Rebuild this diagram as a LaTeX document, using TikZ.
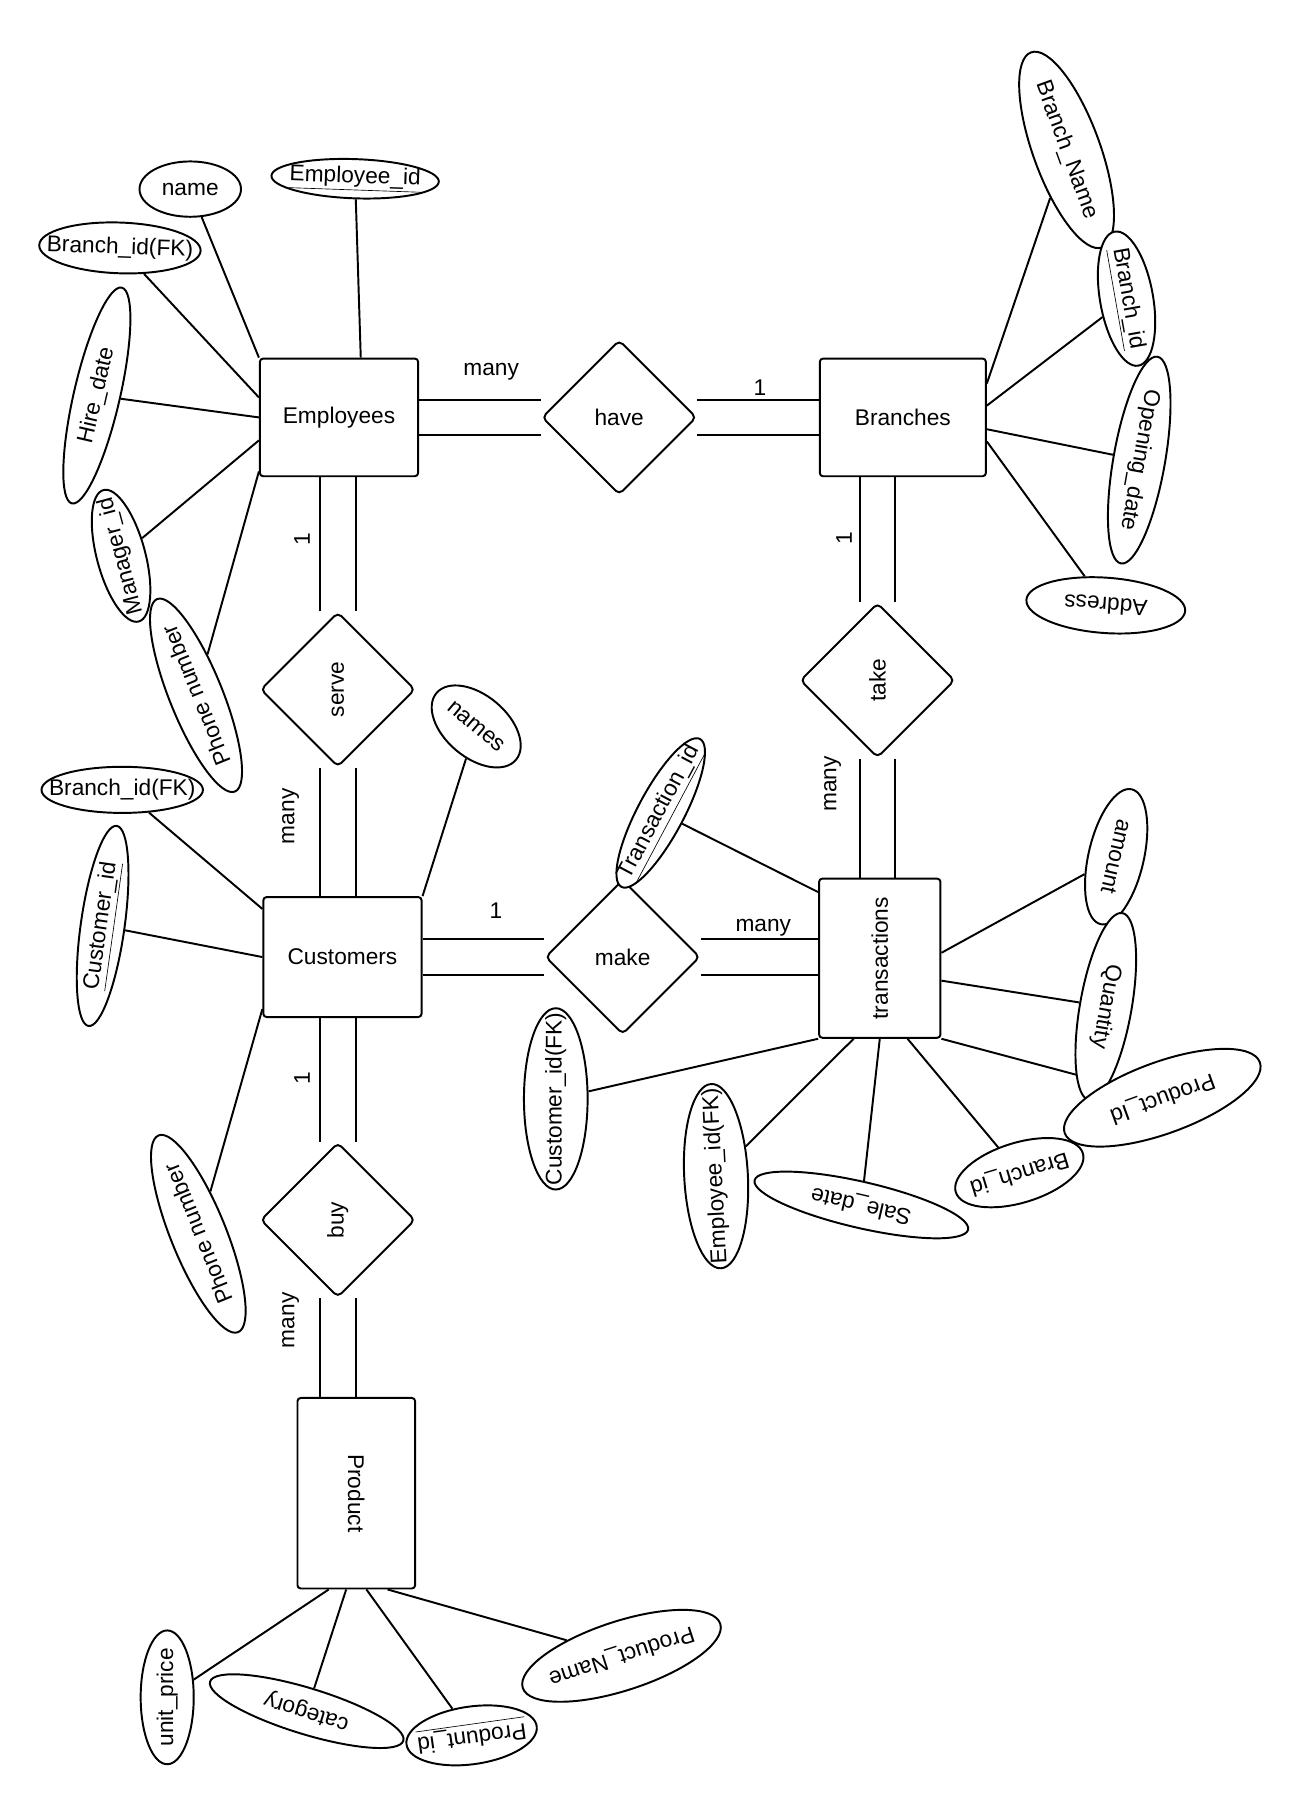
\documentclass[tikz,border=0pt]{standalone}
\usepackage{fontspec}
\setmainfont{Liberation Sans}
\usetikzlibrary{shapes.geometric,backgrounds}
\tikzset{
  entitet/.style={draw=black,line width=1.2pt,rounded corners=2pt,fill=white,
                  inner sep=0pt,align=center},
  odnos/.style={diamond,aspect=1,draw=black,line width=1.2pt,rounded corners=3pt,
                fill=white,inner sep=0pt,minimum width=3.35cm,minimum height=3.35cm},
  atribut/.style={ellipse,draw=black,line width=1.2pt,fill=white,inner sep=0pt,
                  execute at begin node={\setbox0=\hbox\bgroup},
                  execute at end node={\egroup\hbox to 0pt{\hss\box0\hss}}},
  linija/.style={line width=1.2pt,black},
  dupla/.style={draw=black,line width=1.2pt,double=white,double distance=0.73cm},
  oznaka/.style={inner sep=1pt},
}

\begin{document}
\begin{tikzpicture}[x=0.025cm,y=-0.025cm,font=\fontsize{14}{17}\selectfont]

  \useasboundingbox (0,0) rectangle (1140,1568);

  % ---------- ENTITETI ----------
  \node[entitet,minimum width=3.43cm,minimum height=2.55cm] (emp)  at (294,362) {Employees};
  \node[entitet,minimum width=3.6cm,minimum height=2.55cm]  (br)   at (783,362) {Branches};
  \node[entitet,minimum width=3.43cm,minimum height=2.6cm]  (cust) at (297,830) {Customers};
  \node[entitet,minimum width=2.63cm,minimum height=3.45cm] (tr)   at (763,831) {\rotatebox{90}{transactions}};
  \node[entitet,minimum width=2.55cm,minimum height=4.13cm] (prod) at (309,1295) {\rotatebox{-90}{Product}};

  % ---------- VEZE ----------
  \node[odnos]           (have)  at (537,362)  {have};
  \node[odnos,rotate=90] (serve) at (293,598)  {serve};
  \node[odnos]           (make)  at (540,830)  {make};
  \node[odnos,rotate=90] (take)  at (761,590)  {take};
  \node[odnos,rotate=90] (buy)   at (293,1058) {buy};

  % ---------- ATRIBUTI: Employees ----------
  \node[atribut,minimum width=2.2cm,minimum height=1.2cm]                  (eName)   at (165,164) {name};
  \node[atribut,minimum width=3.63cm,minimum height=0.85cm,rotate=-2]      (eId)     at (308,155) {\underline{Employee\_id}};
  \node[atribut,minimum width=3.5cm,minimum height=1.1cm,rotate=-2]        (eBranch) at (104,215) {Branch\_id(FK)};
  \node[atribut,minimum width=4.8cm,minimum height=1.0cm,rotate=77]        (eHire)   at (84,343)  {Hire\_date};
  \node[atribut,minimum width=2.95cm,minimum height=1.05cm,rotate=105]     (eMgr)    at (105,482) {Manager\_id};
  \node[atribut,minimum width=4.5cm,minimum height=1.15cm,rotate=112]      (ePhone)  at (170,603) {Phone number};

  % ---------- ATRIBUTI: Branches ----------
  \node[atribut,minimum width=4.5cm,minimum height=1.45cm,rotate=-70]      (bName)   at (925,130) {Branch\_Name};
  \node[atribut,minimum width=2.95cm,minimum height=1.15cm,rotate=-80]     (bId)     at (977,259) {\underline{Branch\_id}};
  \node[atribut,minimum width=4.55cm,minimum height=1.12cm,rotate=-100]    (bOpen)   at (988,399) {Opening\_date};
  \node[atribut,minimum width=3.45cm,minimum height=1.2cm,rotate=176]      (bAddr)   at (959,525) {Address};

  % ---------- ATRIBUTI: Customers ----------
  \node[atribut,minimum width=2.25cm,minimum height=1.35cm,rotate=-40]     (cNames)  at (413,630) {names};
  \node[atribut,minimum width=3.5cm,minimum height=1.0cm]                  (cBranch) at (106,685) {Branch\_id(FK)};
  \node[atribut,minimum width=4.38cm,minimum height=0.95cm,rotate=82]      (cId)     at (89,803)  {\underline{Customer\_id}};
  \node[atribut,minimum width=4.6cm,minimum height=1.2cm,rotate=112]       (cPhone)  at (172,1070) {Phone number};

  % ---------- ATRIBUTI: transactions ----------
  \node[atribut,minimum width=3.63cm,minimum height=1.0cm,rotate=62]       (tId)     at (573,705) {\underline{Transaction\_id}};
  \node[atribut,minimum width=3.0cm,minimum height=1.2cm,rotate=-103]      (tAmount) at (968,743) {amount};
  \node[atribut,minimum width=4.12cm,minimum height=1.12cm,rotate=-100]    (tQty)    at (959,873) {Quantity};
  \node[atribut,minimum width=4.5cm,minimum height=1.55cm,rotate=200]      (tProd)   at (1008,952) {Product\_Id};
  \node[atribut,minimum width=2.88cm,minimum height=1.3cm,rotate=197]      (tBranch) at (884,1017) {Branch\_id};
  \node[atribut,minimum width=4.75cm,minimum height=1.0cm,rotate=167]      (tSale)   at (747,1045) {Sale\_date};
  \node[atribut,minimum width=4.0cm,minimum height=1.38cm,rotate=93]       (tEmp)    at (621,1020) {Employee\_id(FK)};
  \node[atribut,minimum width=3.93cm,minimum height=1.38cm,rotate=90]      (tCust)   at (482,953) {Customer\_id(FK)};

  % ---------- ATRIBUTI: Product ----------
  \node[atribut,minimum width=2.9cm,minimum height=1.15cm,rotate=90]       (pPrice)  at (145,1472) {unit\_price};
  \node[atribut,minimum width=4.38cm,minimum height=1.0cm,rotate=163]      (pCat)    at (266,1484) {category};
  \node[atribut,minimum width=2.85cm,minimum height=1.25cm,rotate=188]     (pId)     at (409,1505) {\underline{Produnt\_id}};
  \node[atribut,minimum width=4.5cm,minimum height=1.5cm,rotate=198]       (pName)   at (539,1436) {Product\_Name};

  % ---------- OZNAKE ----------
  \node[oznaka]           (lManyHave)  at (426,322)  {many};
  \node[oznaka]           (lOneHave)   at (659,336)  {1};
  \node[oznaka,rotate=90] (lOneServe)  at (262,468)  {1};
  \node[oznaka,rotate=90] (lManyServe) at (252,708)  {many};
  \node[oznaka]           (lOneMake)   at (430,790)  {1};
  \node[oznaka]           (lManyMake)  at (662,805)  {many};
  \node[oznaka,rotate=90] (lOneTake)   at (732,467)  {1};
  \node[oznaka,rotate=90] (lManyTake)  at (722,680)  {many};
  \node[oznaka,rotate=90] (lOneBuy)    at (262,935)  {1};
  \node[oznaka,rotate=90] (lManyBuy)   at (252,1145) {many};

  % ---------- LINIJE ----------
  % sve ide u pozadinu, pa romb i elipse (bela ispuna) pokrivaju krajeve
  \begin{scope}[on background layer]
    \fill[white] (0,0) rectangle (1140,1568);

    \draw[dupla] (have)  -- (emp);
    \draw[dupla] (have)  -- (br);
    \draw[dupla] (serve) -- (serve |- emp.south);
    \draw[dupla] (serve) -- (serve |- cust.north);
    \draw[dupla] (make)  -- (make -| cust.east);
    \draw[dupla] (make)  -- (make -| tr.west);
    \draw[dupla] (take)  -- (take |- br.south);
    \draw[dupla] (take)  -- (take |- tr.north);
    \draw[dupla] (buy)   -- (buy |- cust.south);
    \draw[dupla] (buy)   -- (buy |- prod.north);

    \draw[linija] (eName)   -- (emp.north west);
    \draw[linija] (eId)     -- (emp.70);
    \draw[linija] (eBranch) -- (emp.166);
    \draw[linija] (eHire)   -- (emp.west);
    \draw[linija] (eMgr)    -- (emp.196);
    \draw[linija] (ePhone)  -- (emp.214);

    \draw[linija] (bName) -- (br.22);
    \draw[linija] (bId)   -- (br.8);
    \draw[linija] (bOpen) -- (br.352);
    \draw[linija] (bAddr) -- (br.344);

    \draw[linija] (cNames)  -- (cust.north east);
    \draw[linija] (cBranch) -- (cust.149);
    \draw[linija] (cId)     -- (cust.west);
    \draw[linija] (cPhone)  -- (cust.213);

    \draw[linija] (tId)     -- (tr.133);
    \draw[linija] (tAmount) -- (tr.5);
    \draw[linija] (tQty)    -- (tr.340);
    \draw[linija] (tProd)   -- (tr.south east);
    \draw[linija] (tBranch) -- (tr.289);
    \draw[linija] (tSale)   -- (tr.south);
    \draw[linija] (tEmp)    -- (tr.252);
    \draw[linija] (tCust)   -- (tr.south west);

    \draw[linija] (pPrice) -- (prod.254);
    \draw[linija] (pCat)   -- (prod.264);
    \draw[linija] (pId)    -- (prod.276);
    \draw[linija] (pName)  -- (prod.288);
  \end{scope}

\end{tikzpicture}
\end{document}
